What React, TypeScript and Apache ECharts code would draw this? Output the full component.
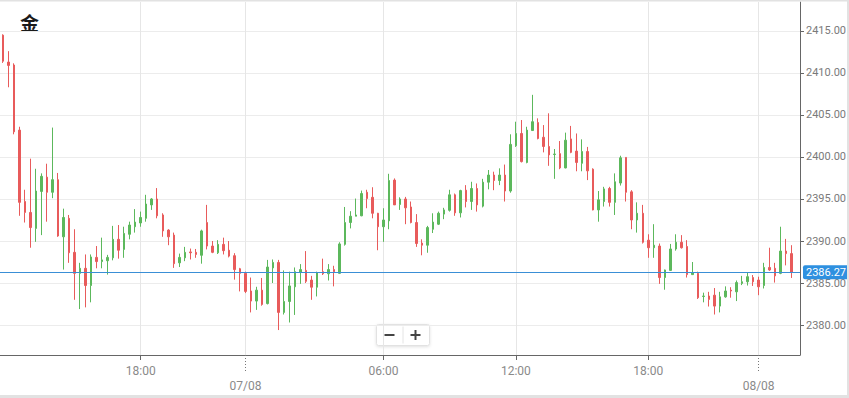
import React, { useEffect, useRef } from "react";
import * as echarts from "echarts";

// 15-minute candles
const opens = [
  2414.5, 2411.3, 2410.95, 2403.2, 2394.7, 2393.4, 2391.5, 2395.9, 2397.6, 2395.8,
  2397.3, 2390.5, 2392.7, 2388.65, 2386.15, 2386.75, 2384.7, 2388.05, 2387.55, 2387.65,
  2388.0, 2390.2, 2389.0, 2390.8, 2391.7, 2392.15, 2392.7, 2394.3, 2395.0, 2393.1,
  2391.3, 2390.7, 2387.4, 2388.0, 2388.7, 2388.65, 2388.3, 2392.2, 2389.4, 2388.6,
  2389.6, 2388.9, 2388.25, 2386.7, 2386.15, 2384.05, 2382.85, 2384.15, 2382.55, 2386.8,
  2387.45, 2381.5, 2382.8, 2384.55, 2386.25, 2386.5, 2385.35, 2384.5, 2386.35, 2386.1,
  2386.6, 2386.15, 2389.6, 2392.2, 2392.95, 2393.0, 2395.8, 2395.2, 2393.3, 2391.7,
  2392.4, 2397.25, 2394.35, 2395.0, 2394.05, 2392.2, 2389.75, 2389.5, 2391.4, 2392.0,
  2393.2, 2393.65, 2395.5, 2393.35, 2396.05, 2394.7, 2396.25, 2394.15, 2397.0, 2397.85,
  2397.2, 2397.85, 2395.95, 2401.35, 2402.8, 2399.35, 2403.15, 2404.1, 2402.35, 2401.25,
  2400.3, 2400.4, 2398.7, 2402.15, 2400.7, 2399.25, 2400.65, 2398.55, 2393.7, 2394.7,
  2396.25, 2394.6, 2396.9, 2399.95, 2395.85, 2392.5, 2393.3, 2390.1, 2389.2, 2389.4,
  2385.65, 2386.5, 2389.05, 2389.85, 2389.35, 2386.0, 2386.15, 2383.4, 2383.45, 2383.55,
  2382.25, 2383.35, 2384.15, 2383.95, 2384.95, 2385.15, 2385.65, 2385.35, 2384.7, 2386.85,
  2386.75, 2386.15, 2388.8, 2388.5,
];
const closes = [
  2411.4, 2410.9, 2403.0, 2394.6, 2393.4, 2391.6, 2395.95, 2397.7, 2395.8, 2397.3,
  2390.6, 2392.8, 2388.6, 2386.15, 2386.75, 2384.7, 2388.1, 2387.55, 2387.75, 2388.05,
  2390.2, 2388.9, 2390.9, 2391.9, 2392.25, 2392.8, 2394.4, 2395.0, 2393.0, 2391.2,
  2390.5, 2387.3, 2388.05, 2388.65, 2388.6, 2388.4, 2391.2, 2389.4, 2388.65, 2389.6,
  2388.85, 2388.2, 2386.6, 2386.15, 2384.0, 2382.85, 2384.15, 2382.45, 2386.9, 2387.45,
  2381.5, 2382.8, 2384.65, 2386.35, 2386.6, 2385.2, 2384.5, 2386.25, 2386.1, 2386.6,
  2386.35, 2389.65, 2392.2, 2392.95, 2393.1, 2395.65, 2395.05, 2393.3, 2391.7, 2392.5,
  2397.2, 2394.3, 2395.0, 2393.95, 2392.2, 2389.7, 2389.5, 2391.6, 2392.25, 2393.3,
  2393.7, 2395.5, 2393.35, 2396.0, 2394.7, 2396.25, 2394.3, 2397.0, 2397.85, 2397.2,
  2397.85, 2395.95, 2401.5, 2402.8, 2399.45, 2403.2, 2404.2, 2402.2, 2401.25, 2400.25,
  2400.35, 2398.7, 2402.0, 2400.55, 2399.35, 2400.65, 2398.35, 2393.7, 2394.9, 2396.2,
  2394.6, 2397.05, 2399.9, 2395.8, 2392.5, 2393.3, 2389.85, 2389.2, 2389.5, 2385.65,
  2386.55, 2389.05, 2389.85, 2389.2, 2386.0, 2386.25, 2383.25, 2383.45, 2383.05, 2382.25,
  2383.35, 2384.05, 2384.05, 2385.05, 2385.15, 2385.75, 2385.15, 2384.55, 2386.85, 2386.55,
  2385.85, 2388.8, 2388.5, 2386.27,
];
const lows = [
  2411.2, 2408.3, 2402.7, 2393.0, 2392.2, 2389.2, 2389.9, 2390.7, 2392.3, 2395.1,
  2390.5, 2386.6, 2387.4, 2383.0, 2381.9, 2382.1, 2382.7, 2386.75, 2386.75, 2386.0,
  2387.7, 2387.9, 2388.0, 2390.2, 2391.0, 2391.7, 2392.3, 2393.7, 2392.7, 2390.5,
  2389.5, 2386.8, 2386.9, 2387.6, 2387.8, 2388.0, 2387.3, 2389.0, 2388.55, 2388.45,
  2388.4, 2388.05, 2385.4, 2384.0, 2383.8, 2381.5, 2381.8, 2382.3, 2382.45, 2385.0,
  2379.4, 2381.25, 2380.3, 2381.2, 2384.9, 2385.0, 2383.0, 2383.4, 2385.95, 2385.3,
  2384.6, 2386.1, 2389.45, 2391.5, 2392.95, 2392.95, 2393.9, 2392.7, 2388.9, 2389.9,
  2391.4, 2394.3, 2393.7, 2392.0, 2392.1, 2389.3, 2388.3, 2388.6, 2390.95, 2391.9,
  2392.6, 2393.5, 2393.0, 2392.8, 2394.0, 2393.7, 2393.5, 2394.0, 2396.15, 2396.05,
  2396.65, 2394.7, 2395.75, 2401.2, 2399.35, 2399.25, 2403.1, 2402.1, 2400.55, 2398.95,
  2397.4, 2398.55, 2398.65, 2400.45, 2398.3, 2398.3, 2397.25, 2393.65, 2392.3, 2394.1,
  2394.1, 2393.1, 2396.6, 2394.7, 2391.4, 2391.0, 2389.7, 2388.0, 2388.0, 2384.9,
  2384.2, 2386.45, 2388.85, 2389.1, 2385.65, 2385.95, 2383.1, 2382.7, 2382.2, 2381.25,
  2381.5, 2383.25, 2383.25, 2382.85, 2384.75, 2384.7, 2384.65, 2383.55, 2384.35, 2386.45,
  2385.05, 2386.05, 2387.1, 2385.6,
];
const highs = [
  2414.6, 2412.6, 2411.15, 2403.6, 2396.1, 2399.8, 2398.6, 2398.05, 2399.2, 2403.5,
  2398.1, 2393.85, 2393.1, 2391.4, 2387.4, 2388.4, 2388.4, 2389.4, 2390.4, 2388.35,
  2391.8, 2391.9, 2391.7, 2392.3, 2393.8, 2393.5, 2395.5, 2395.1, 2396.3, 2393.3,
  2391.4, 2391.0, 2388.5, 2389.3, 2389.1, 2389.05, 2391.35, 2394.3, 2390.0, 2390.1,
  2390.4, 2390.0, 2388.55, 2386.8, 2386.35, 2385.65, 2384.55, 2385.6, 2387.75, 2387.8,
  2387.75, 2386.5, 2386.35, 2386.85, 2387.25, 2388.8, 2385.85, 2386.35, 2387.9, 2387.25,
  2387.05, 2389.85, 2394.05, 2393.55, 2395.05, 2396.0, 2396.1, 2396.4, 2393.35, 2393.9,
  2398.0, 2397.45, 2395.2, 2395.25, 2394.7, 2393.2, 2390.2, 2391.8, 2393.3, 2393.5,
  2393.95, 2396.1, 2395.65, 2396.1, 2396.65, 2397.05, 2396.85, 2397.4, 2398.45, 2398.25,
  2398.65, 2399.1, 2402.7, 2404.2, 2404.4, 2403.6, 2407.4, 2404.6, 2403.8, 2405.2,
  2400.95, 2401.9, 2402.9, 2403.7, 2402.8, 2402.1, 2401.2, 2398.65, 2395.95, 2396.45,
  2396.45, 2398.05, 2400.15, 2399.95, 2396.05, 2394.6, 2394.3, 2390.8, 2392.0, 2389.7,
  2386.6, 2389.65, 2390.8, 2390.7, 2390.1, 2387.5, 2386.35, 2383.85, 2383.95, 2384.4,
  2383.95, 2384.6, 2384.5, 2385.3, 2385.85, 2386.25, 2385.95, 2385.75, 2387.4, 2389.2,
  2387.4, 2391.7, 2390.25, 2389.5,
];

// x-axis tick labels: candle index -> text (day labels on the second line)
const timeTicks: [number, string][] = [
  [25, "18:00"],
  [69, "06:00"],
  [93, "12:00"],
  [117, "18:00"],
];
const dayTicks: [number, string][] = [
  [44, "07/08"],
  [137, "08/08"],
];
const lastPrice = 2386.27;
const title = "金";

const UP = "#5cb85c";
const DOWN = "#e85b5b";

export default function App() {
  const ref = useRef<HTMLDivElement>(null);
  useEffect(() => {
    if (!ref.current) return;
    const chart = echarts.init(ref.current, null, { renderer: "svg" });
    const categories = Array.from({ length: opens.length + 1 }, (_, i) => String(i));
    const data = opens.map((o, i) => [o, closes[i], lows[i], highs[i]]);
    const timeMap = new Map(timeTicks);
    const dayMap = new Map(dayTicks);
    const allIdx = new Set<number>([...timeMap.keys(), ...dayMap.keys()]);

    chart.setOption({
      animation: false,
      backgroundColor: "#ffffff",
      grid: { left: -2.29, right: 43, top: 2, bottom: 43 },
      xAxis: [
        {
          type: "category",
          data: categories,
          position: "bottom",
          boundaryGap: true,
          axisLine: { show: true, lineStyle: { color: "#666", width: 1 } },
          axisTick: {
            show: true,
            alignWithLabel: true,
            length: 5,
            interval: (i: number) => timeMap.has(i),
            lineStyle: { color: "#666" },
          },
          axisLabel: {
            interval: (i: number) => allIdx.has(i),
            formatter: (_v: string, i: number) =>
              timeMap.has(i) ? timeMap.get(i) : dayMap.has(i) ? "\n" + dayMap.get(i) : "",
            color: "#8a8a8a",
            fontSize: 12,
            fontFamily: "Roboto, sans-serif",
            lineHeight: 15,
            margin: 8,
          },
          splitLine: {
            show: true,
            alignWithLabel: true,
            interval: (i: number) => allIdx.has(i),
            lineStyle: { color: "#e6e6e6", width: 1 },
          },
        },
        {
          type: "category",
          data: categories,
          position: "bottom",
          boundaryGap: true,
          axisLine: { show: false },
          axisLabel: { show: false },
          splitLine: { show: false },
          axisTick: {
            show: true,
            alignWithLabel: true,
            length: 18,
            interval: (i: number) => dayMap.has(i),
            lineStyle: { color: "#777", type: [1, 2] },
          },
        },
      ],
      yAxis: {
        type: "value",
        position: "right",
        scale: true,
        min: 2376.43,
        max: 2418.45,
        minInterval: 5,
        maxInterval: 5,
        splitNumber: 8,
        axisLine: { show: true, lineStyle: { color: "#666" } },
        axisTick: { show: true, length: 4, lineStyle: { color: "#666" } },
        axisLabel: {
          showMinLabel: false,
          showMaxLabel: false,
          formatter: (v: number) => (Math.abs(v / 5 - Math.round(v / 5)) < 1e-6 ? v.toFixed(2) : ""),
          color: "#7a7a7a",
          fontSize: 11,
          fontFamily: "Roboto, sans-serif",
          margin: 6,
        },
        splitLine: {
          show: true,
          showMinLine: false,
          showMaxLine: false,
          lineStyle: { color: "#ececec" },
        },
      },
      series: [
        {
          type: "candlestick",
          xAxisIndex: 0,
          yAxisIndex: 0,
          data,
          barWidth: 2,
          itemStyle: {
            color: UP,
            color0: DOWN,
            borderColor: UP,
            borderColor0: DOWN,
            borderWidth: 1,
          },
          markLine: {
            silent: true,
            symbol: "none",
            data: [{ yAxis: lastPrice }],
            lineStyle: { color: "#3a8fd6", width: 1, type: "solid" },
            label: {
              position: "end",
              distance: 3,
              formatter: lastPrice.toFixed(2),
              color: "#fff",
              backgroundColor: "#2e90e0",
              borderRadius: 2,
              padding: [2, 3, 1, 3],
              fontSize: 11,
              fontFamily: "Roboto, sans-serif",
            },
          },
        },
      ],
      graphic: [
        {
          type: "text",
          left: 20,
          top: 13,
          style: {
            text: title,
            fill: "#1a1a1a",
            font: "bold 19px 'Noto Sans CJK SC', sans-serif",
          },
        },
        {
          type: "group",
          left: 376,
          top: 324,
          children: [
            {
              type: "rect",
              shape: { x: 0, y: 0, width: 53, height: 21, r: 2 },
              style: {
                fill: "#fff",
                stroke: "#e2e2e2",
                lineWidth: 1,
                shadowBlur: 3,
                shadowColor: "rgba(0,0,0,0.12)",
                shadowOffsetY: 1,
              },
            },
            {
              type: "line",
              shape: { x1: 26.5, y1: 2, x2: 26.5, y2: 19 },
              style: { stroke: "#e4e4e4", lineWidth: 1 },
            },
            {
              type: "rect",
              shape: { x: 8, y: 9.5, width: 10, height: 2 },
              style: { fill: "#444" },
            },
            {
              type: "rect",
              shape: { x: 34, y: 9.5, width: 10, height: 2 },
              style: { fill: "#444" },
            },
            {
              type: "rect",
              shape: { x: 38, y: 5.5, width: 2, height: 10 },
              style: { fill: "#444" },
            },
          ],
        },
        { type: "rect", shape: { x: 0, y: 0, width: 849, height: 1.5 }, style: { fill: "#e2e2e2" }, z: 100 },
        { type: "rect", shape: { x: 847, y: 0, width: 2, height: 398 }, style: { fill: "#e2e2e2" }, z: 100 },
        { type: "rect", shape: { x: 0, y: 395, width: 849, height: 3 }, style: { fill: "#e2e2e2" }, z: 100 },
      ],
    });
    return () => chart.dispose();
  }, []);
  return (
    <div
      ref={ref}
      style={{ position: "fixed", left: 0, top: 0, width: 849, height: 398, background: "#fff" }}
    />
  );
}
